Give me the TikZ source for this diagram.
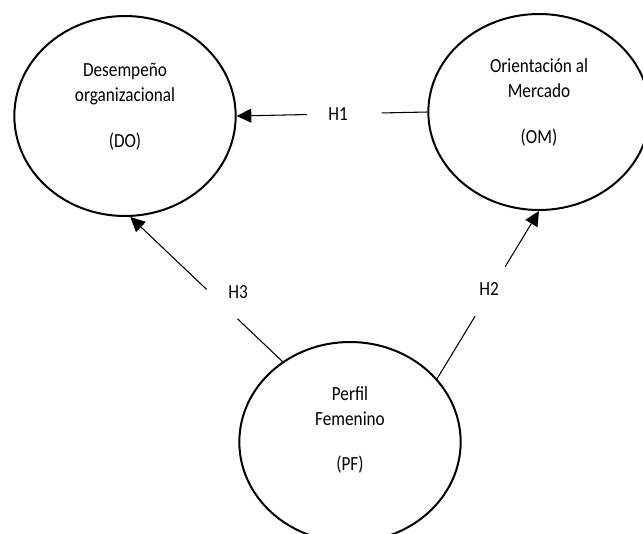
\documentclass[tikz,border=0pt]{standalone}
\usepackage{fontspec}
\setmainfont{Carlito}[FakeStretch=0.86]
\usetikzlibrary{arrows.meta,shapes.geometric}

\begin{document}
\begin{tikzpicture}[x=0.75pt,y=-0.75pt,
    blob/.style={ellipse,draw,line width=1.5pt,inner sep=0pt,minimum width=166pt,minimum height=150pt},
    txt/.style={align=center,yshift=7pt,font=\fontsize{15}{18.75}\selectfont},
    hyp/.style={font=\fontsize{15}{18.75}\selectfont},
    link/.style={line width=0.8pt},
    arr/.style={link,-{Triangle[length=11pt,width=10.5pt]}}]
        \useasboundingbox (0,0) rectangle (643,533);

        % Constructs
        \node[blob,label={[txt]center:Desempeño\\organizacional\\[15.5pt](DO)}] (DO) at (125,116) {};
        \node[blob,minimum height=147pt,label={[txt]center:Orientación al\\Mercado\\[15.5pt](OM)}] (OM) at (539,112) {};
        \node[blob,label={[txt,yshift=2pt]center:Perfil\\Femenino\\[15.5pt](PF)}] (PF) at (350,442) {};

        % H1: OM -> DO
        \path (OM.west) -- (DO.east) coordinate[pos=.24] (h1a) coordinate[pos=.63] (h1b);
        \draw[link] (OM.west) -- (h1a);
        \draw[arr] (h1b) -- (DO.east);
        \node[hyp] (h1) at (338,114.5) {H1};

        % H2: PF -> OM
        \path (PF.36) -- (OM.south) coordinate[pos=.373] (h2a) coordinate[pos=.669] (h2b);
        \draw[link] (PF.36) -- (h2a);
        \draw[arr] (h2b) -- (OM.south);
        \node[hyp] (h2) at (489,289) {H2};

        % H3: PF -> DO
        \path (PF.130) -- (DO.-87) coordinate[pos=.295] (h3a) coordinate[pos=.498] (h3b);
        \draw[link] (PF.130) -- (h3a);
        \draw[arr] (h3b) -- (DO.-87);
        \node[hyp] (h3) at (238,292) {H3};

\end{tikzpicture}
\end{document}
